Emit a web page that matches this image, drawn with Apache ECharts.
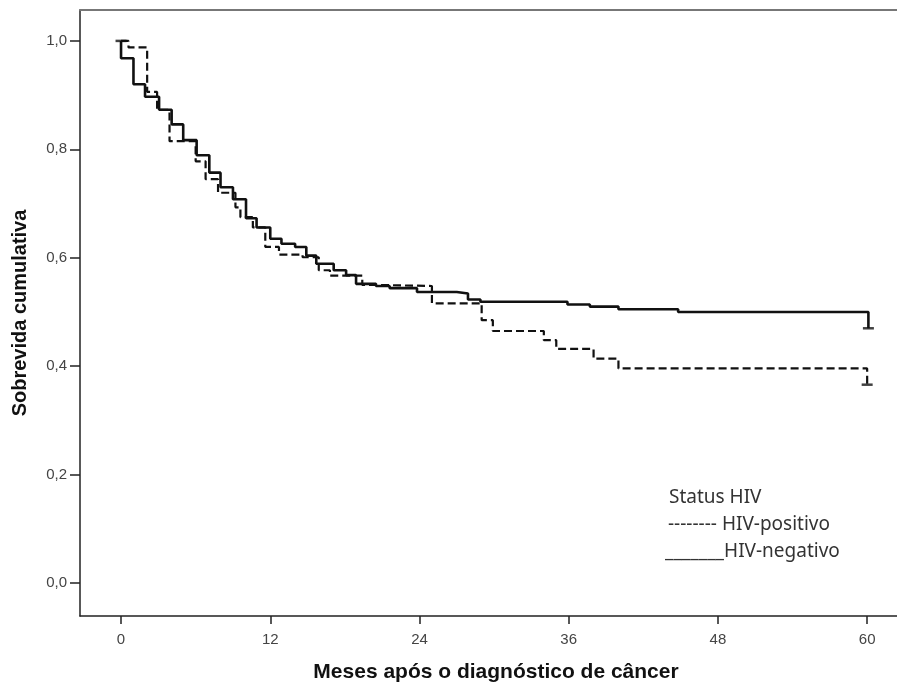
<!DOCTYPE html>
<html lang="pt">

<head>
    <meta charset="UTF-8">
    <title>Sobrevida cumulativa por status HIV</title>
    <script src="https://cdn.jsdelivr.net/npm/echarts@6/dist/echarts.min.js"></script>
    <style>
        html, body {
            margin: 0;
            padding: 0;
            background: #fff;
        }

        #chart {
            width: 897px;
            height: 688px;
        }
    </style>
</head>

<body>
    <div id="chart"></div>
</body>

<script type="text/javascript">
    // tempo (meses) e sobrevida de cada degrau
    var negT = [0, 0, 1.0, 1.93, 3.06, 4.07, 5.0, 6.08, 7.1, 8.0, 9.0, 10.05, 10.9, 12.0, 12.9, 14.0, 14.9, 15.7, 17.1, 18.1, 18.9, 20.5, 21.6, 23.8, 27.0, 27.9, 28.9, 35.9, 37.7, 40.0, 44.8, 60.1, 60.1]
    var negS = [1.0, 0.968, 0.92, 0.897, 0.873, 0.846, 0.817, 0.789, 0.757, 0.73, 0.708, 0.673, 0.656, 0.635, 0.626, 0.62, 0.604, 0.589, 0.577, 0.568, 0.552, 0.548, 0.544, 0.537, 0.534, 0.523, 0.519, 0.514, 0.51, 0.505, 0.5, 0.5, 0.47]

    var posT = [0, 0.6, 2.1, 2.9, 3.9, 6.0, 6.8, 7.8, 9.2, 9.6, 10.6, 11.6, 12.7, 14.6, 15.9, 16.8, 19.4, 20.5, 25.0, 29.0, 29.9, 34.0, 35.0, 38.0, 40.0, 60.0, 60.0]
    var posS = [1.0, 0.988, 0.906, 0.873, 0.815, 0.778, 0.745, 0.72, 0.693, 0.675, 0.656, 0.62, 0.606, 0.601, 0.577, 0.567, 0.55, 0.548, 0.516, 0.485, 0.465, 0.448, 0.432, 0.414, 0.396, 0.396, 0.366]

    // marcas de censura (início e fim das curvas)
    var censorT = [0, 60.1, 60.0]
    var censorS = [1.0, 0.47, 0.366]

    var xTicks = [0, 12, 24, 36, 48, 60]
    var yTicks = [0, 0.2, 0.4, 0.6, 0.8, 1.0]

    var seriesNames = ['HIV-negativo', 'HIV-positivo']
    var legendTitle = 'Status HIV'

    function pairs(xs, ys) {
        return xs.map(function (x, i) { return [x, ys[i]] })
    }

    var option = {
        animation: false,
        backgroundColor: '#fff',
        grid: {
            left: 80,
            right: 0,
            top: 10,
            bottom: 69
        },
        xAxis: [{
            type: 'value',
            min: -3.3,
            max: 62.4,
            name: 'Meses após o diagnóstico de câncer',
            nameLocation: 'middle',
            nameGap: 46,
            nameTextStyle: {
                fontFamily: 'Liberation Sans',
                fontWeight: 'bold',
                fontSize: 21,
                color: '#111',
                padding: [0, 0, 0, 15]
            },
            axisLine: {
                onZero: false,
                lineStyle: { color: '#222', width: 1.5 }
            },
            axisTick: {
                customValues: xTicks,
                length: 8,
                lineStyle: { color: '#222', width: 1.5 }
            },
            axisLabel: {
                customValues: xTicks,
                margin: 16,
                fontFamily: 'Liberation Sans',
                fontSize: 15,
                color: '#444'
            },
            splitLine: { show: false }
        }, {
            // borda superior cinza
            type: 'value',
            position: 'top',
            min: -3.3,
            max: 62.4,
            axisLine: {
                onZero: false,
                lineStyle: { color: '#777', width: 2 }
            },
            axisTick: { show: false },
            axisLabel: { show: false },
            splitLine: { show: false }
        }],
        yAxis: {
            type: 'value',
            min: -0.0606,
            max: 1.057,
            name: 'Sobrevida cumulativa',
            nameLocation: 'middle',
            nameGap: 50,
            nameTextStyle: {
                fontFamily: 'Liberation Sans',
                fontWeight: 'bold',
                fontSize: 20,
                color: '#111'
            },
            axisLine: {
                show: true,
                onZero: false,
                lineStyle: { color: '#222', width: 1.5 }
            },
            axisTick: {
                customValues: yTicks,
                length: 10,
                lineStyle: { color: '#222', width: 1.5 }
            },
            axisLabel: {
                customValues: yTicks,
                margin: 13,
                fontFamily: 'Liberation Sans',
                fontSize: 15,
                color: '#444',
                formatter: function (v) {
                    return v.toFixed(1).replace('.', ',')
                }
            },
            splitLine: { show: false }
        },
        graphic: [{
            type: 'text',
            left: 669,
            top: 488,
            style: {
                text: legendTitle,
                font: '19px "Noto Sans"',
                fill: '#333'
            }
        }, {
            type: 'text',
            left: 668,
            top: 515,
            style: {
                text: '-------- ' + seriesNames[1],
                font: '19px "Noto Sans"',
                fill: '#333'
            }
        }, {
            type: 'text',
            left: 665,
            top: 542,
            style: {
                text: '_______' + seriesNames[0],
                font: '19px "Noto Sans"',
                fill: '#333'
            }
        }],
        series: [{
            name: seriesNames[1],
            type: 'line',
            step: 'end',
            showSymbol: false,
            data: pairs(posT, posS),
            lineStyle: {
                color: '#111',
                width: 2.2,
                type: [8, 4]
            },
            z: 2
        }, {
            name: seriesNames[0],
            type: 'line',
            step: 'end',
            showSymbol: false,
            data: pairs(negT, negS),
            lineStyle: {
                color: '#111',
                width: 2.6
            },
            z: 3
        }, {
            name: 'censura',
            type: 'scatter',
            symbol: 'rect',
            symbolSize: [11, 2.5],
            data: pairs(censorT, censorS),
            itemStyle: { color: '#111' },
            z: 4
        }]
    }

    var myChart = echarts.init(document.getElementById('chart'))
    myChart.setOption(option)
    window.onresize = function () {
        myChart.resize()
    }
</script>

</html>
